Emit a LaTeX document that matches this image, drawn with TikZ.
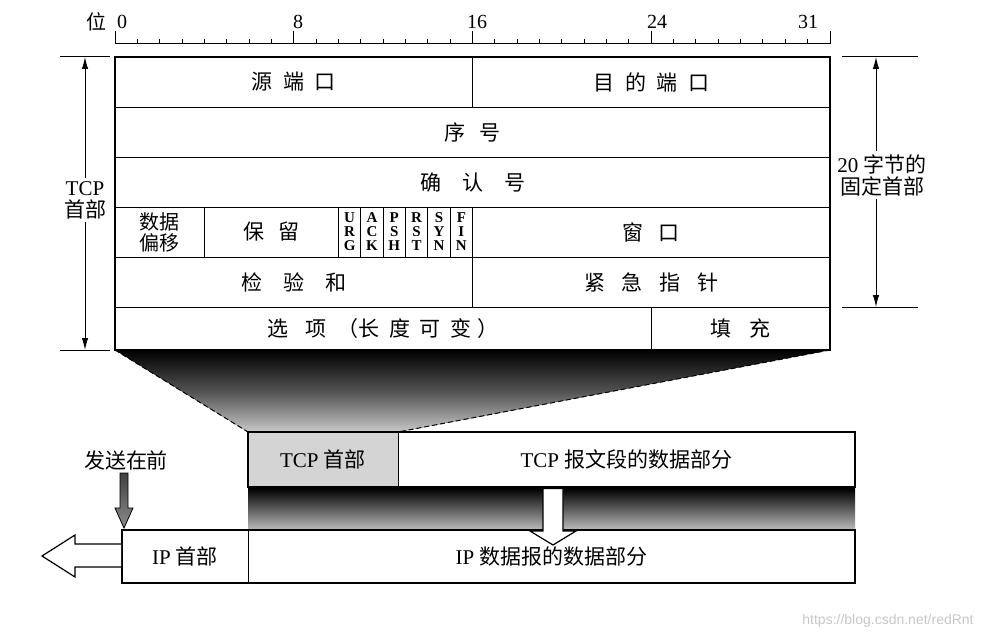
\documentclass[tikz,border=0pt]{standalone}
\usepackage{fontspec}
\setmainfont{Liberation Serif}
\newfontfamily\cjk{Noto Sans CJK SC}
\newfontfamily\wmfont{Liberation Sans}
\usetikzlibrary{arrows.meta}
\newcommand\cgap[1]{\hspace{#1em}}
\begin{document}
\begin{tikzpicture}[x=1pt,y=-1pt,
  cell/.style={draw, line width=0.9pt, inner sep=0pt, outer sep=0pt, font=\cjk\fontsize{21}{23}\selectfont},
  flagcell/.style={draw, line width=0.9pt, inner sep=0pt, outer sep=0pt, minimum width=22.344, minimum height=50, align=center, font=\bfseries\fontsize{15}{14}\selectfont},
  heavy/.style={line width=2.6pt},
  rulerline/.style={line width=1pt},
  lbl/.style={inner sep=2pt, font=\fontsize{20}{22}\selectfont},
  dimlbl/.style={inner sep=3pt, align=center, font=\fontsize{21}{22}\selectfont},
  dimarrow/.style={line width=1pt, -{Latex[length=12pt,width=6.5pt]}},
  hollow/.style={fill=white, draw=black, line width=1.2pt, line join=miter},
]
\useasboundingbox (0,0) rectangle (997,634);

% ---------- ruler ----------
\draw[rulerline] (115,44) -- (830,44);
\foreach \i in {0,...,32}{
  \pgfmathsetmacro\xx{115+\i*22.34375}
  \ifnum\i=0 \draw[rulerline] (\xx,31) -- (\xx,44);
  \else\ifnum\i=8 \draw[rulerline] (\xx,31) -- (\xx,44);
  \else\ifnum\i=16 \draw[rulerline] (\xx,31) -- (\xx,44);
  \else\ifnum\i=24 \draw[rulerline] (\xx,31) -- (\xx,44);
  \else\ifnum\i=32 \draw[rulerline] (\xx,31) -- (\xx,44);
  \else \draw[rulerline] (\xx,39) -- (\xx,44);
  \fi\fi\fi\fi\fi
}
\node[lbl, font=\cjk\fontsize{20}{22}\selectfont] (wei) at (96,22) {位};
\node[lbl] (b0) at (122,22) {0};
\node[lbl] (b8) at (298,22) {8};
\node[lbl] (b16) at (477,22) {16};
\node[lbl] (b24) at (657,22) {24};
\node[lbl] (b31) at (808,22) {31};

% ---------- trapezoid (expansion) ----------
\coordinate (tl) at (115,350);
\coordinate (tr) at (830,350);
\coordinate (bl) at (248,432);
\coordinate (br) at (398,432);
\fill[top color=black, bottom color=black!22, middle color=black!68] (tl) -- (tr) -- (br) -- (bl) -- cycle;
\draw[line width=1pt, dash pattern=on 5pt off 3pt] (tl) -- (bl);
\draw[line width=1pt, dash pattern=on 5pt off 3pt] (tr) -- (br);

% ---------- header rows ----------
\node[cell, minimum width=357.5, minimum height=50] (src) at (293.75,82) {源\cgap{0.5}端\cgap{0.5}口};
\node[cell, minimum width=357.5, minimum height=50] (dst) at (651.25,82) {目\cgap{0.5}的\cgap{0.5}端\cgap{0.5}口};
\node[cell, minimum width=715, minimum height=50] (seq) at (472.5,132) {序\cgap{0.7}号};
\node[cell, minimum width=715, minimum height=50] (ack) at (472.5,182) {确\cgap{1}认\cgap{1}号};
\node[cell, minimum width=89.375, minimum height=50, align=center, font=\cjk\fontsize{20}{21}\selectfont] (off) at (159.69,232) {数据\\偏移};
\node[cell, minimum width=134.06, minimum height=50] (rsv) at (271.41,232) {保\cgap{0.7}留};
\node[flagcell] (urg) at (349.61,232) {U\\R\\G};
\node[flagcell] (fack) at (371.95,232) {A\\C\\K};
\node[flagcell] (psh) at (394.30,232) {P\\S\\H};
\node[flagcell] (rst) at (416.64,232) {R\\S\\T};
\node[flagcell] (syn) at (438.98,232) {S\\Y\\N};
\node[flagcell] (fin) at (461.33,232) {F\\I\\N};
\node[cell, minimum width=357.5, minimum height=50] (win) at (651.25,232) {窗\cgap{0.7}口};
\node[cell, minimum width=357.5, minimum height=50] (chk) at (293.75,282) {检\cgap{1}验\cgap{1}和};
\node[cell, minimum width=357.5, minimum height=50] (urgp) at (651.25,282) {紧\cgap{0.8}急\cgap{0.8}指\cgap{0.8}针};
\node[cell, minimum width=536.25, minimum height=43] (opt) at (383.125,328.5) {选\cgap{0.8}项\cgap{0.55}（长\cgap{0.45}度\cgap{0.45}可\cgap{0.45}变\cgap{0.3}）\hspace{16pt}};
\node[cell, minimum width=178.75, minimum height=43] (pad) at (740.625,328.5) {填\cgap{0.85}充};
\draw[heavy] (115,57) rectangle (830,350);

% ---------- left dimension ----------
\coordinate (ltop) at (85,57);
\coordinate (lbot) at (85,350);
\draw[line width=1pt] (60,57) -- (110,57);
\draw[line width=1pt] (60,350) -- (110,350);
\node[dimlbl] (tcplbl) at (85,200) {TCP\\{\cjk 首部}};
\draw[dimarrow] (tcplbl.north -| ltop) -- (ltop);
\draw[dimarrow] (tcplbl.south -| lbot) -- (lbot);

% ---------- right dimension ----------
\coordinate (rtop) at (876,57);
\coordinate (rbot) at (876,307);
\draw[line width=1pt] (842,57) -- (918,57);
\draw[line width=1pt] (842,307) -- (918,307);
\node[dimlbl] (fixlbl) at (882,175) {20 {\cjk 字节的}\\{\cjk 固定首部}};
\draw[dimarrow] (fixlbl.north -| rtop) -- (rtop);
\draw[dimarrow] (fixlbl.south -| rbot) -- (rbot);

% ---------- TCP segment ----------
\node[cell, fill=black!17, minimum width=150, minimum height=55, font=\fontsize{21}{23}\selectfont] (tcph) at (323,459.5) {TCP {\cjk 首部}};
\node[cell, minimum width=457, minimum height=55, font=\fontsize{21}{23}\selectfont] (tcpd) at (626.5,459.5) {TCP {\cjk 报文段的数据部分}\hspace{28pt}};
\draw[heavy] (248,432) rectangle (855,487);

% band between
\fill[top color=black, bottom color=black!28, middle color=black!64] (248,488.5) rectangle (855,529);

% ---------- IP datagram ----------
\node[cell, minimum width=126, minimum height=53, font=\fontsize{21}{23}\selectfont] (iph) at (185,556.5) {\raisebox{-2.5pt}{IP {\cjk 首部}}};
\node[cell, minimum width=607, minimum height=53, font=\fontsize{21}{23}\selectfont] (ipd) at (551.5,556.5) {\raisebox{-3pt}{IP {\cjk 数据报的数据部分}}\hspace{12pt}};
\draw[heavy] (122,530) rectangle (855,583);

% hollow down arrow from TCP data to IP data
\draw[hollow] (543,488.5) -- (563,488.5) -- (563,531) -- (576,531) -- (553,545) -- (530,531) -- (543,531) -- cycle;

% ---------- send-first label and arrow ----------
\node[lbl, font=\cjk\fontsize{21}{22}\selectfont] (send) at (126,460) {发送在前};
\draw[top color=black!75, bottom color=black!45, draw=black, line width=0.8pt]
  (120,473) -- (128,473) -- (128,508) -- (133,508) -- (124,528) -- (115,508) -- (120,508) -- cycle;

% ---------- left hollow arrow ----------
\draw[hollow] (121,544) -- (75,544) -- (75,535) -- (42,556) -- (75,577) -- (75,567) -- (121,567);

% ---------- watermark ----------
\node[text=black!22, inner sep=0pt, font=\wmfont\fontsize{14}{16}\selectfont] (wm) at (888,621) {https://blog.csdn.net/redRnt};
\end{tikzpicture}
\end{document}
